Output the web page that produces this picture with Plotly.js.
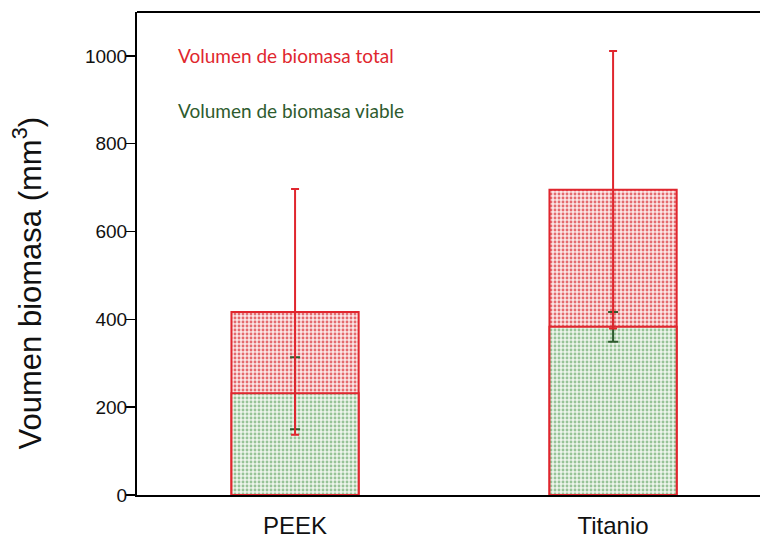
<!DOCTYPE html>
<html>
<head>
<meta charset="utf-8">
<script src="https://cdn.plot.ly/plotly-3.0.1.min.js"></script>
<style>html,body{margin:0;padding:0;background:#fff;}</style>
</head>
<body>
<div id="chart" style="width:760px;height:540px;"></div>
<script>
const categories = ["PEEK", "Titanio"];
const totalValues = [417, 695];
const totalErrors = [280, 316];
const viableValues = [232, 383];
const viableErrors = [82, 34];
const yTicks = [0, 200, 400, 600, 800, 1000];
const yTitle = "Voumen biomasa (mm<sup>3</sup>)";
const labelTotal = "Volumen de biomasa total";
const labelViable = "Volumen de biomasa viable";

const red = "#e0262e";
const darkGreen = "#2e5b2e";

const traces = [
  {
    type: "bar", x: categories, y: totalValues, name: labelTotal,
    width: 0.4,
    marker: {
      color: "#f6cfcf",
      line: {color: red, width: 2},
      pattern: {shape: ".", fgcolor: "#e46a6e", bgcolor: "#fbe6e6", size: 4, solidity: 0.4}
    }
  },
  {
    type: "bar", x: categories, y: viableValues, name: labelViable,
    width: 0.4,
    marker: {
      color: "#d9ead6",
      line: {color: red, width: 2},
      pattern: {shape: ".", fgcolor: "#97c397", bgcolor: "#edf5eb", size: 4, solidity: 0.4}
    },
    error_y: {type: "data", array: viableErrors, visible: true, color: darkGreen, thickness: 2, width: 5}
  },
  {
    type: "scatter", mode: "markers", x: categories, y: totalValues, name: labelTotal + " (error)",
    marker: {size: 1, color: "rgba(0,0,0,0)"},
    error_y: {type: "data", array: totalErrors, visible: true, color: red, thickness: 2, width: 4}
  }
];

const layout = {
  width: 760, height: 540,
  margin: {l: 137, r: 0, t: 12, b: 45},
  barmode: "overlay",
  showlegend: false,
  paper_bgcolor: "#fff", plot_bgcolor: "#fff",
  font: {family: "Liberation Sans, Arial, sans-serif", color: "#111"},
  xaxis: {
    type: "category",
    range: [-0.497, 1.462],
    showline: true, linecolor: "#000", linewidth: 2, mirror: false,
    ticks: "", showgrid: false, zeroline: false,
    tickfont: {size: 24, color: "#111"},
    ticklabelstandoff: 8
  },
  yaxis: {
    range: [0, 1100],
    tickvals: yTicks, ticktext: yTicks.map(String),
    showline: true, linecolor: "#000", linewidth: 2, mirror: false,
    ticks: "outside", ticklen: 9, tickwidth: 1.5, tickcolor: "#000",
    showgrid: false, zeroline: false,
    tickfont: {size: 19, color: "#111"},
    ticklabelstandoff: -5
  },
  shapes: [
    {type: "line", xref: "paper", yref: "paper", x0: 0, x1: 1, y0: 1, y1: 1,
     line: {color: "#000", width: 2}}
  ],
  annotations: [
    {xref: "paper", yref: "paper", x: -0.175, y: 0.44, xanchor: "center", yanchor: "middle",
     text: yTitle, textangle: -90, showarrow: false,
     font: {family: "Liberation Sans, Arial, sans-serif", size: 31, color: "#111"}},
    {xref: "paper", yref: "y", x: 0.063, y: 1000, xanchor: "left", yanchor: "middle",
     text: labelTotal, showarrow: false,
     font: {family: "Lato, Open Sans, sans-serif", size: 19, color: red}},
    {xref: "paper", yref: "y", x: 0.063, y: 875, xanchor: "left", yanchor: "middle",
     text: labelViable, showarrow: false,
     font: {family: "Lato, Open Sans, sans-serif", size: 19, color: darkGreen}}
  ]
};

Plotly.newPlot("chart", traces, layout, {displayModeBar: false, staticPlot: true});
</script>
</body>
</html>
